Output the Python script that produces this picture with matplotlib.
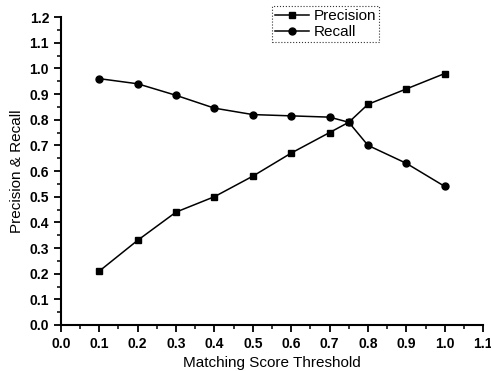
import numpy as np
import matplotlib.pyplot as plt
from matplotlib.ticker import MultipleLocator

plt.rcParams['font.family'] = ['Liberation Sans', 'DejaVu Sans']

threshold = [0.1, 0.2, 0.3, 0.4, 0.5, 0.6, 0.7, 0.75, 0.8, 0.9, 1.0]
precision = [0.21, 0.33, 0.44, 0.50, 0.58, 0.67, 0.75, 0.79, 0.86, 0.92, 0.98]
recall = [0.96, 0.94, 0.895, 0.845, 0.82, 0.815, 0.81, 0.79, 0.70, 0.63, 0.54]

fig = plt.figure(figsize=(4.91, 3.71), dpi=100)
ax = fig.add_axes([0.124, 0.124, 0.860, 0.830])

ax.plot(threshold, precision, color="black", marker="s", markersize=5, linewidth=1.1, label="Precision")
ax.plot(threshold, recall, color="black", marker="o", markersize=5, linewidth=1.1, label="Recall")

ax.set_xlim(0, 1.1)
ax.set_ylim(0, 1.2)
ax.xaxis.set_major_locator(MultipleLocator(0.1))
ax.xaxis.set_minor_locator(MultipleLocator(0.05))
ax.yaxis.set_major_locator(MultipleLocator(0.1))
ax.yaxis.set_minor_locator(MultipleLocator(0.05))
ax.spines["top"].set_visible(False)
ax.spines["right"].set_visible(False)
ax.spines["left"].set_linewidth(1.5)
ax.spines["bottom"].set_linewidth(1.5)
ax.tick_params(which="major", direction="out", length=5, width=1.3, labelsize=10)
ax.tick_params(which="minor", direction="out", length=3, width=1.1)
for lab in ax.get_xticklabels() + ax.get_yticklabels():
    lab.set_fontweight("bold")
ax.xaxis.set_major_formatter(plt.FormatStrFormatter("%.1f"))
ax.yaxis.set_major_formatter(plt.FormatStrFormatter("%.1f"))

ax.set_xlabel("Matching Score Threshold", fontsize=11, labelpad=4)
ax.set_ylabel("Precision & Recall", fontsize=11, labelpad=4)

leg = ax.legend(loc="upper left", bbox_to_anchor=(0.50, 1.035), fontsize=11,
                frameon=True, fancybox=False, borderpad=0.2, handlelength=2.2,
                handletextpad=0.3, labelspacing=0.1, borderaxespad=0)
leg.get_frame().set_edgecolor("black")
leg.get_frame().set_linewidth(0.8)
leg.get_frame().set_linestyle(":")
leg.set_clip_on(False)

plt.savefig("out.png", dpi=100)
